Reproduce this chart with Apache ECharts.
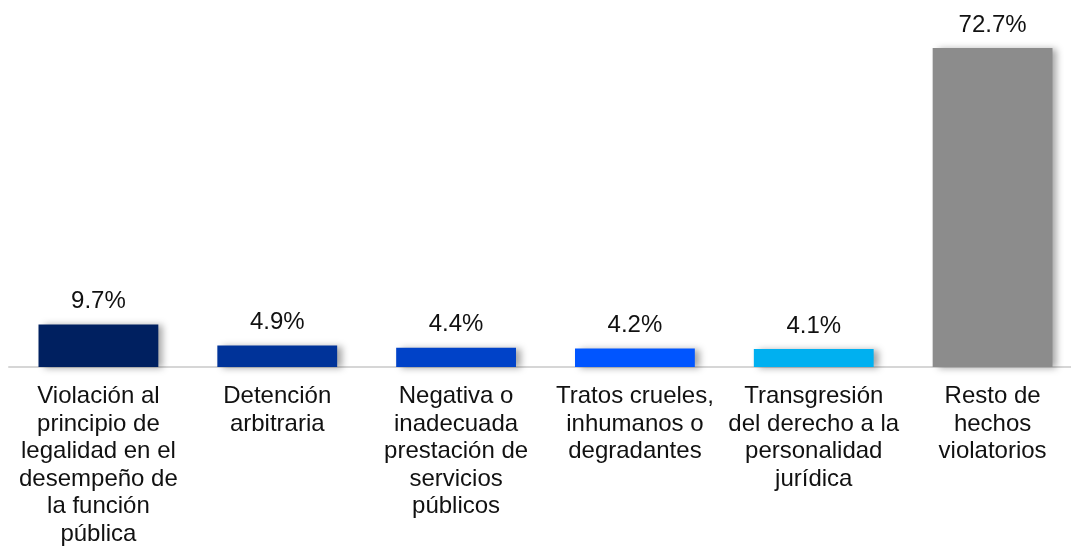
<!DOCTYPE html>
<html>
<head>
<meta charset="utf-8">
<script src="https://cdn.jsdelivr.net/npm/echarts@6/dist/echarts.min.js"></script>
<style>
  html, body { margin: 0; padding: 0; background: #ffffff; }
  #chart { width: 1071px; height: 546px; }
</style>
</head>
<body>
<div id="chart"></div>
<script>
// Categories (line breaks as they wrap under each bar)
const categories = [
  'Violación al\nprincipio de\nlegalidad en el\ndesempeño de\nla función\npública',
  'Detención\narbitraria',
  'Negativa o\ninadecuada\nprestación de\nservicios\npúblicos',
  'Tratos crueles,\ninhumanos o\ndegradantes',
  'Transgresión\ndel derecho a la\npersonalidad\njurídica',
  'Resto de\nhechos\nviolatorios'
];

// Share of each type of violation (%)
const values = [9.7, 4.9, 4.4, 4.2, 4.1, 72.7];

// Fill colour of each bar
const barColors = ['#002060', '#003399', '#0042C8', '#0055FF', '#00B0F0', '#8C8C8C'];

const chart = echarts.init(document.getElementById('chart'));

chart.setOption({
  backgroundColor: '#ffffff',
  animation: false,
  textStyle: { fontFamily: '"Liberation Sans", Arial, sans-serif' },
  grid: {
    left: 9,
    top: 48,
    width: 1073,
    height: 319,
    outerBoundsMode: 'none'
  },
  xAxis: {
    type: 'category',
    data: categories,
    axisLine: { show: true, lineStyle: { color: '#d6d6d6', width: 2 } },
    axisTick: { show: false },
    axisLabel: {
      interval: 0,
      margin: 16,
      color: '#111111',
      fontSize: 24,
      lineHeight: 27.5,
      fontFamily: '"Liberation Sans", Arial, sans-serif'
    }
  },
  yAxis: {
    type: 'value',
    min: 0,
    max: 72.7,
    show: false,
    splitLine: { show: false }
  },
  series: [{
    type: 'bar',
    barCategoryGap: '33%',
    data: values.map((v, i) => ({
      value: v,
      itemStyle: { color: barColors[i] }
    })),
    itemStyle: {
      shadowColor: 'rgba(0, 0, 0, 0.35)',
      shadowBlur: 7,
      shadowOffsetX: 5,
      shadowOffsetY: 1
    },
    label: {
      show: true,
      position: 'top',
      distance: 11,
      color: '#111111',
      fontSize: 24,
      fontFamily: '"Liberation Sans", Arial, sans-serif',
      formatter: p => p.value.toFixed(1) + '%'
    }
  }]
});
</script>
</body>
</html>
